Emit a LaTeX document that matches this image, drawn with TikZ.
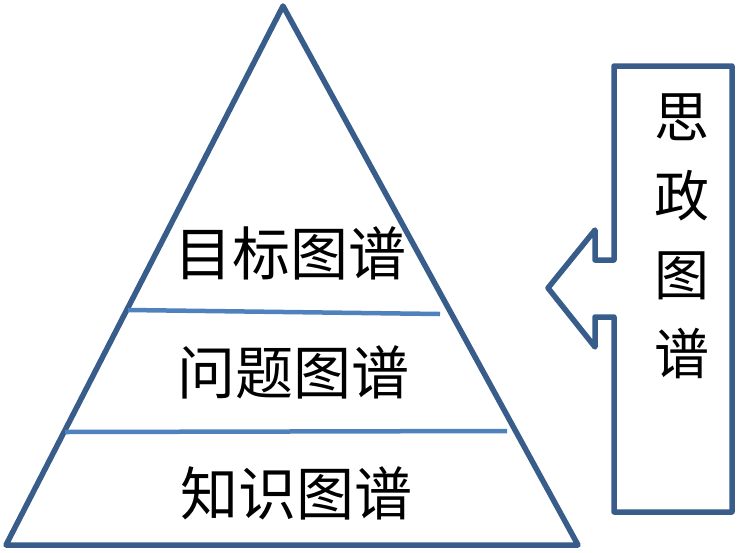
\documentclass[tikz,border=0pt]{standalone}
\usepackage{fontspec}
\newfontfamily\cjk{Noto Sans CJK SC}
\usetikzlibrary{positioning}
\definecolor{mapblue}{RGB}{56, 93, 138}
\definecolor{layerblue}{RGB}{79, 129, 189}

\begin{document}
\begin{tikzpicture}[
            x=1pt, y=-1pt,
            outline/.style={draw=mapblue, line width=5.5pt, line join=round},
            divider/.style={draw=layerblue, line width=4.5pt},
            layer/.style={font=\cjk\fontsize{58}{60}\selectfont, inner sep=0pt},
            sidetext/.style={font=\cjk\fontsize{55}{79}\selectfont, align=center, inner sep=0pt}
        ]
            \useasboundingbox (0,0) rectangle (741,552);

            \coordinate (apex) at (283,6);
            \coordinate (baseL) at (6,545);
            \coordinate (baseR) at (578,545);
            \draw[outline] (apex) -- (baseR) -- (baseL) -- cycle;

            \coordinate (d1L) at (128,310);
            \coordinate (d1R) at (440,314);
            \coordinate (d2L) at (65,432);
            \coordinate (d2R) at (507,431);
            \draw[divider] (d1L) -- (d1R);
            \draw[divider] (d2L) -- (d2R);

            \node[layer] (goal) at (290,253) {目标图谱};
            \node[layer] (problem) at (293,372) {问题图谱};
            \node[layer] (knowledge) at (296,493) {知识图谱};

            \draw[outline] (614,66) -- (732,66) -- (732,512) -- (614,512) -- (614,317)
                -- (595,317) -- (595,347) -- (548,288) -- (595,230) -- (595,260)
                -- (614,260) -- cycle;
            \node[sidetext] (ideology) at (682,236) {思\\政\\图\\谱};
        \end{tikzpicture}
\end{document}
